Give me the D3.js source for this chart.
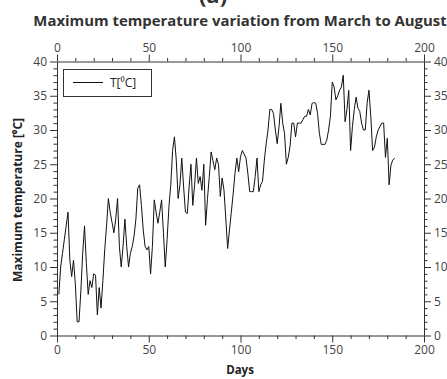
<!DOCTYPE html>
<html><head><meta charset="utf-8">
<script src="https://cdn.jsdelivr.net/npm/d3@7"></script>
<style>body{margin:0;background:#fff}svg{display:block}text{font-family:"Open Sans","Noto Sans",sans-serif}</style>
</head><body>
<script>
const days = d3.range(1, 185);
const temps = [6,10,12,14,16,18,11,8.6,11,7.5,2,2,6.5,12,16,10.5,6,8,7,9,8.8,3,7,4,8,12.5,16,20,18,16.5,
15,17,20,13,10,13,17,13,10,12,13,14.5,17,21.5,22,19,15.4,13,12.5,13,9,13,19.8,18,16.4,18,19.8,15,10,14,
18.8,22,27,29,25.6,20,22,25.9,21.7,18,17.8,21.7,25,19,22,25.9,22.2,23.2,21.2,25,16.1,20,23.2,26.8,25.5,24.2,25.9,25,20.3,23,
21.2,17,12.7,15.4,18,20.7,23.7,25.9,23.9,26.1,27,26.5,25.9,23.7,21,21,21,23.2,25.9,21,22,22.5,25.6,28,30,33,33,32.4,30,28,
30.5,33.9,31,29.5,25,26,27.6,31,31,29,31,31,31,31.5,32,32,33,32.2,33.9,34,33.9,32.4,29.5,27.9,27.9,27.9,28.5,30,32,37,
36.3,34.4,35,35.8,36.3,38,31.2,33,35.8,27,30.5,33,34.8,33.2,32.7,31,30,30,33.9,35.8,32,27,27.5,29,30,30.5,31,31,26,28.8,
22,24.9,25.6,25.9];
const xTicks = [0,50,100,150,200];
const yTicks = [0,5,10,15,20,25,30,35,40];
const title = "Maximum temperature variation from March to August";
const xLabel = "Days";
const yLabel = "Maximum temperature [\u2070C]";
const seriesName = "T[\u2070C]";

const W = 447, H = 379;
const L = 57, R = 424, T = 61.5, B = 335.5;
const svg = d3.select("body").append("svg").attr("width", W).attr("height", H);
const x = d3.scaleLinear().domain([0,200]).range([L,R]);
const y = d3.scaleLinear().domain([0,40]).range([B,T]);
const axisCol = "#333", labCol = "#444";

svg.append("text").attr("x",213).attr("y",3).attr("text-anchor","middle")
  .attr("font-size",22).attr("font-weight","bold").attr("fill","#333").text("(a)");
svg.append("text").attr("x",240).attr("y",26).attr("text-anchor","middle")
  .attr("font-size",14.9).attr("font-weight","bold").attr("fill","#333").text(title);

function styleAxis(g){
  g.select(".domain").attr("stroke",axisCol);
  g.selectAll(".tick line").attr("stroke",axisCol);
  g.selectAll(".tick text").attr("fill",labCol).attr("font-size",12)
   .attr("font-family","'Open Sans','Noto Sans',sans-serif");
}
function minor(axisFn, scale, vals, pos){
  svg.append("g").attr("transform",pos)
    .call(axisFn(scale).tickValues(vals).tickSize(3.5).tickFormat(""))
    .call(g=>{g.select(".domain").remove(); g.selectAll("line").attr("stroke",axisCol);});
}
const xMinor = d3.range(0,201,10).filter(v=>v%50);
const yMinor = d3.range(0,41,1).filter(v=>v%5);
minor(d3.axisBottom, x, xMinor, `translate(0,${B})`);
minor(d3.axisTop, x, xMinor, `translate(0,${T})`);
minor(d3.axisLeft, y, yMinor, `translate(${L},0)`);
minor(d3.axisRight, y, yMinor, `translate(${R},0)`);

svg.append("g").attr("transform",`translate(0,${B})`)
  .call(d3.axisBottom(x).tickValues(xTicks).tickSize(7).tickSizeOuter(0).tickPadding(3)).call(styleAxis);
svg.append("g").attr("transform",`translate(0,${T})`)
  .call(d3.axisTop(x).tickValues(xTicks).tickSize(7).tickSizeOuter(0).tickPadding(3)).call(styleAxis);
svg.append("g").attr("transform",`translate(${L},0)`)
  .call(d3.axisLeft(y).tickValues(yTicks).tickSize(7).tickSizeOuter(0).tickPadding(3)).call(styleAxis);
svg.append("g").attr("transform",`translate(${R},0)`)
  .call(d3.axisRight(y).tickValues(yTicks).tickSize(7).tickSizeOuter(0).tickPadding(3)).call(styleAxis);

svg.append("path").datum(days.map((d,i)=>[d,temps[i]]))
  .attr("fill","none").attr("stroke","#111").attr("stroke-width",1)
  .attr("d", d3.line().x(d=>x(d[0])).y(d=>y(d[1])));

// legend
svg.append("rect").attr("x",63.5).attr("y",69.5).attr("width",88).attr("height",27)
  .attr("fill","#fff").attr("stroke","#333");
svg.append("line").attr("x1",73).attr("x2",103).attr("y1",82.5).attr("y2",82.5).attr("stroke","#111");
svg.append("text").attr("x",110).attr("y",87).attr("font-size",12).attr("fill","#222").text(seriesName);

svg.append("text").attr("x",240).attr("y",374).attr("text-anchor","middle")
  .attr("font-size",11.5).attr("font-weight","bold").attr("fill","#222").text(xLabel);
svg.append("text").attr("transform","translate(22,200) rotate(-90)").attr("text-anchor","middle")
  .attr("font-size",12).attr("font-weight","bold").attr("fill","#222").text(yLabel);
</script>
</body></html>
